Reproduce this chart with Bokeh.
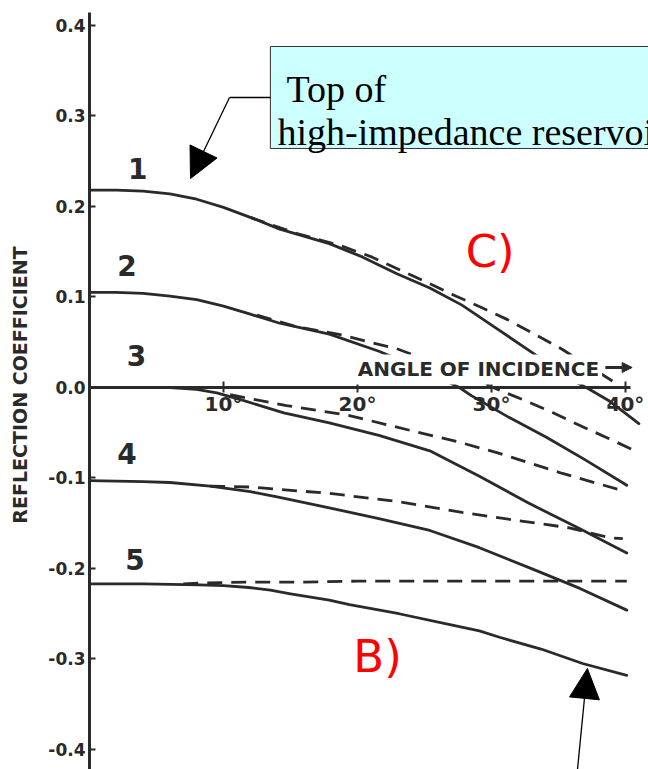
from bokeh.plotting import figure
from bokeh.models import Range1d, FixedTicker, PrintfTickFormatter, Label, Arrow, NormalHead
from bokeh.core.properties import value
from bokeh.embed import file_html
from bokeh.resources import INLINE

# ---------------- data (angle of incidence in degrees, reflection coefficient) ----------------
angle_1_solid = [0, 2, 4, 6, 8, 10, 12, 14.2, 17.9, 20.4, 22.9, 25.4, 27.8, 30.4, 33.1, 35.8, 37.3, 38.8, 40.3, 41.0]
refl_1_solid = [0.218, 0.218, 0.217, 0.214, 0.208, 0.199, 0.188, 0.175, 0.159, 0.144, 0.126, 0.110, 0.091, 0.065, 0.038, 0.010, -0.002, -0.015, -0.032, -0.040]
angle_1_dash = [12.0, 15.5, 18.7, 21.1, 23.3, 25.2, 27.2, 29.3, 31.2, 33.2, 35.3, 37.2, 39.6]
refl_1_dash = [0.188, 0.170, 0.157, 0.144, 0.129, 0.116, 0.102, 0.088, 0.075, 0.059, 0.042, 0.024, 0.002]

angle_2_solid = [0, 2, 4, 6, 8, 10, 12, 14.2, 17.9, 21.6, 24.5, 27.6, 28.5, 31.3, 34.1, 37.0, 40.1]
refl_2_solid = [0.105, 0.105, 0.104, 0.101, 0.097, 0.090, 0.081, 0.071, 0.059, 0.040, 0.022, 0.000, -0.009, -0.033, -0.055, -0.080, -0.108]
angle_2_dash = [12.5, 15.5, 18.9, 20.9, 22.9, 26.0, 29.1, 30.1, 32.6, 34.6, 36.6, 38.7, 41.0]
refl_2_dash = [0.080, 0.067, 0.058, 0.050, 0.043, 0.026, 0.008, 0.000, -0.015, -0.028, -0.042, -0.056, -0.072]

angle_3_solid = [0, 6, 8, 9.5, 11.4, 14.5, 17.9, 21.6, 25.4, 29.1, 32.8, 36.6, 40.1]
refl_3_solid = [0.0, 0.0, -0.002, -0.006, -0.014, -0.028, -0.039, -0.053, -0.070, -0.098, -0.128, -0.156, -0.183]
angle_3_dash = [10.5, 14.7, 19.4, 24.1, 27.5, 30.4, 35.3, 39.8]
refl_3_dash = [-0.008, -0.020, -0.031, -0.048, -0.060, -0.072, -0.095, -0.114]

angle_4_solid = [0, 4, 6, 9.0, 12, 14.0, 17.9, 21.6, 25.4, 29.1, 32.8, 36.6, 40.1]
refl_4_solid = [-0.103, -0.104, -0.105, -0.109, -0.115, -0.121, -0.133, -0.145, -0.158, -0.177, -0.199, -0.222, -0.246]
angle_4_dash = [9.0, 12.0, 17.9, 23.0, 27.8, 31.5, 35.8, 38.8, 39.8]
refl_4_dash = [-0.109, -0.110, -0.117, -0.126, -0.138, -0.146, -0.155, -0.166, -0.167]

angle_5_solid = [0, 4, 8.2, 10, 11.9, 13.5, 15.0, 17.9, 19.4, 23.1, 26.9, 29.1, 30.6, 33.7, 36.8, 40.1]
refl_5_solid = [-0.217, -0.217, -0.218, -0.219, -0.221, -0.224, -0.228, -0.235, -0.240, -0.250, -0.262, -0.269, -0.276, -0.289, -0.305, -0.318]
angle_5_dash = [7.0, 8.2, 12, 16, 20, 24, 28, 32, 36, 40.1]
refl_5_dash = [-0.217, -0.216, -0.215, -0.215, -0.214, -0.214, -0.214, -0.214, -0.214, -0.214]

curve_names = ["1", "2", "3", "4", "5"]
x_ticks = [10, 20, 30, 40]
y_ticks = [-0.4, -0.3, -0.2, -0.1, 0.0, 0.1, 0.2, 0.3, 0.4]

# ---------------- layout / style constants ----------------
name_x = [3.6, 2.8, 3.5, 2.8, 3.4]
name_y = [0.242, 0.135, 0.035, -0.073, -0.190]
INK = "#2a2a2a"
BOLD_FONT = "DejaVu Sans"

p = figure(width=648, height=769,
           x_range=Range1d(0, 41.72), y_range=Range1d(-0.4221, 0.4276),
           output_backend="svg", toolbar_location=None,
           min_border_left=89, min_border_right=0, min_border_top=0, min_border_bottom=0)
p.outline_line_color = None
p.xgrid.visible = False
p.ygrid.visible = False

# x axis drawn through zero
xa = p.xaxis[0]
xa.fixed_location = 0
xa.bounds = (0, 40.4)
xa.ticker = FixedTicker(ticks=x_ticks)
xa.formatter = PrintfTickFormatter(format="%d°")
xa.axis_line_width = 3
xa.axis_line_color = INK
xa.major_tick_in = 6
xa.major_tick_out = 5
xa.major_tick_line_width = 2
xa.major_tick_line_color = INK
xa.minor_tick_line_color = None
xa.major_label_text_font = BOLD_FONT
xa.major_label_text_font_style = "bold"
xa.major_label_text_font_size = "20px"
xa.major_label_text_color = INK
xa.major_label_standoff = 0

ya = p.yaxis[0]
ya.bounds = (-0.43, 0.414)
ya.ticker = FixedTicker(ticks=y_ticks)
ya.formatter = PrintfTickFormatter(format="%.1f")
ya.axis_line_width = 3
ya.axis_line_color = INK
ya.major_tick_in = 6
ya.major_tick_out = 0
ya.major_tick_line_width = 2
ya.major_tick_line_color = INK
ya.minor_tick_line_color = None
ya.major_label_text_font = BOLD_FONT
ya.major_label_text_font_style = "bold"
ya.major_label_text_font_size = "17px"
ya.major_label_text_color = INK
ya.major_label_standoff = 4
ya.axis_label = "REFLECTION COEFFICIENT"
ya.axis_label_text_font = BOLD_FONT
ya.axis_label_text_font_style = "bold"
ya.axis_label_text_font_size = "19px"
ya.axis_label_text_color = INK
ya.axis_label_standoff = 14

# curves
solids = [(angle_1_solid, refl_1_solid), (angle_2_solid, refl_2_solid), (angle_3_solid, refl_3_solid),
          (angle_4_solid, refl_4_solid), (angle_5_solid, refl_5_solid)]
dashes = [(angle_1_dash, refl_1_dash), (angle_2_dash, refl_2_dash), (angle_3_dash, refl_3_dash),
          (angle_4_dash, refl_4_dash), (angle_5_dash, refl_5_dash)]
for a, r in solids:
    p.line(a, r, line_color=INK, line_width=2.8, line_join="round", line_cap="round")
for a, r in dashes:
    p.line(a, r, line_color=INK, line_width=2.8, line_dash="15 9", line_join="round")

p.text(x=name_x, y=name_y, text=curve_names, text_font=value(BOLD_FONT), text_font_style="bold",
       text_font_size="28px", text_color=INK, text_align="center", text_baseline="middle")

# red annotations
p.text(x=[29.9, 21.5], y=[0.150, -0.297], text=["C)", "B)"], text_font=value("DejaVu Sans"),
       text_font_size="45px", text_color="#ff0000", text_align="center", text_baseline="middle")

# cyan call-out box
p.quad(left=[13.5], right=[43.0], top=[0.3768], bottom=[0.2641], fill_color="#ccffff",
       line_color="#333333", line_width=1)
p.text(x=[14.7, 14.03], y=[0.3293, 0.2818], text=["Top of", "high-impedance reservoir"],
       text_font=value("Liberation Serif"), text_font_size="38px", text_color="#000000",
       text_align="left", text_baseline="alphabetic")
p.segment(x0=[13.5], y0=[0.3204], x1=[10.45], y1=[0.3204], line_color="#000000", line_width=1.3)
p.add_layout(Arrow(x_start=10.45, y_start=0.3204, x_end=7.54, y_end=0.2309, line_width=1.3,
                   line_color="#000000",
                   end=NormalHead(size=30, fill_color="#000000", line_color="#000000")))
p.add_layout(Arrow(x_start=36.42, y_start=-0.4221, x_end=37.16, y_end=-0.3105, line_width=1.3,
                   line_color="#000000",
                   end=NormalHead(size=30, fill_color="#000000", line_color="#000000")))

# axis title over the curves
p.add_layout(Label(x=19.8, y=0.0199, text="ANGLE OF INCIDENCE", text_font=BOLD_FONT,
                   text_font_style="bold", text_font_size="20px", text_color=INK,
                   text_align="left", text_baseline="middle",
                   background_fill_color="white", padding=3))
p.add_layout(Arrow(x_start=38.5, y_start=0.0221, x_end=40.5, y_end=0.0221, line_width=3,
                   line_color=INK, end=NormalHead(size=10, fill_color=INK, line_color=INK)))

open("out.html", "w").write(file_html(p, INLINE))
